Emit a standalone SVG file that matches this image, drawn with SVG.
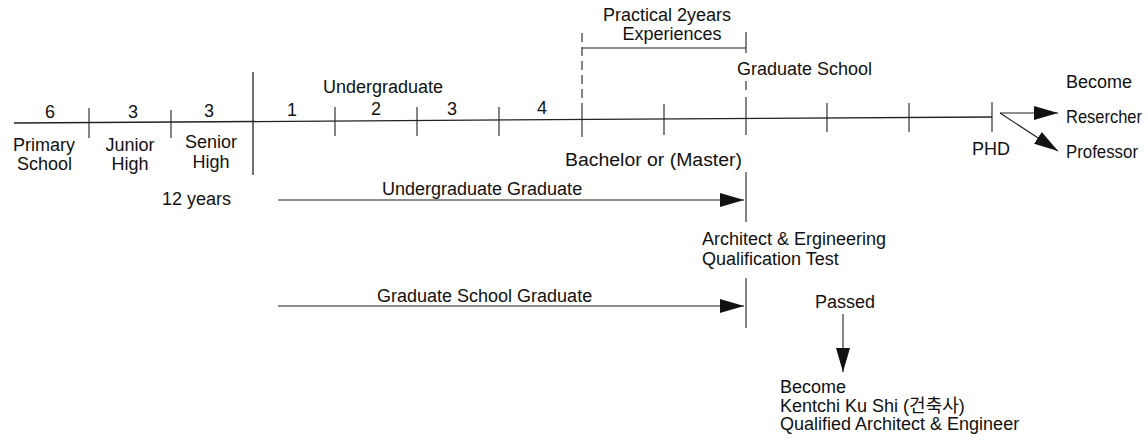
<svg xmlns="http://www.w3.org/2000/svg" width="1148" height="442" viewBox="0 0 1148 442">
<style>
text{font-family:"Liberation Sans","Noto Sans CJK KR",Arial,sans-serif;font-size:18px;fill:#111}
.ln{stroke:#222;stroke-width:1.3;fill:none}
.tk{stroke:#222;stroke-width:1.1;fill:none}
.ds{stroke:#222;stroke-width:1.1;fill:none;stroke-dasharray:9 5}
.ar{stroke:#222;stroke-width:1.1;fill:none;marker-end:url(#ah)}
.c{text-anchor:middle}
</style>
<defs>
<marker id="ah" markerUnits="userSpaceOnUse" markerWidth="26" markerHeight="16" refX="24" refY="7" orient="auto">
<path d="M0,0 L24,7 L0,14 Z" fill="#111"/>
</marker>
</defs>
<rect width="1148" height="442" fill="#fff"/>
<g id="connectors">
<path class="ln" d="M14,123 L992,117"/>
<path class="tk" d="M89,108 V138 M171,110 V138 M335,107 V136 M417,107 V136 M499,107 V136 M664,104 V135 M827,103 V132 M909,103 V132 M992,102 V132"/>
<path class="ln" d="M253,72 V175"/>
<path class="ds" d="M582,33 V103"/>
<path class="tk" d="M582,103 V137"/>
<path class="tk" d="M582,48 H746 M746,32 V53"/>
<path class="ds" d="M746,81 V95"/>
<path class="tk" d="M746,97 V135"/>
<path class="tk" d="M746,172 V222 M746,278 V328"/>
<path class="ar" d="M278,200 H744"/>
<path class="ar" d="M278,306 H744"/>
<path class="ar" d="M843,314 V372"/>
<path class="ar" d="M1000,113 H1058"/>
<path class="ar" d="M1000,113 L1058,151"/>
</g>
<g id="top-labels">
<text class="c" x="667" y="21">Practical 2years</text>
<text class="c" x="672" y="40">Experiences</text>
<text x="737" y="75">Graduate School</text>
<text x="323" y="93">Undergraduate</text>
</g>
<g id="years">
<text class="c" x="50" y="118">6</text>
<text class="c" x="133" y="118">3</text>
<text class="c" x="209" y="117">3</text>
<text class="c" x="292" y="116">1</text>
<text class="c" x="376" y="115">2</text>
<text class="c" x="452" y="115">3</text>
<text class="c" x="542" y="114">4</text>
</g>
<g id="schools">
<text x="13" y="151">Primary</text>
<text x="17" y="170">School</text>
<text class="c" x="130" y="151">Junior</text>
<text class="c" x="130" y="170">High</text>
<text class="c" x="211" y="148">Senior</text>
<text class="c" x="211" y="168">High</text>
<text x="162" y="205">12 years</text>
</g>
<g id="degree">
<text x="565" y="166" textLength="177" lengthAdjust="spacingAndGlyphs">Bachelor or (Master)</text>
</g>
<g id="paths">
<text x="382" y="195">Undergraduate Graduate</text>
<text x="377" y="302">Graduate School Graduate</text>
</g>
<g id="test">
<text x="702" y="245">Architect &amp; Ergineering</text>
<text x="702" y="265">Qualification Test</text>
<text x="815" y="308">Passed</text>
</g>
<g id="result">
<text x="780" y="393">Become</text>
<text x="780" y="412">Kentchi Ku Shi (건축사)</text>
<text x="780" y="430">Qualified Architect &amp; Engineer</text>
</g>
<g id="phd">
<text x="972" y="155">PHD</text>
<text x="1066" y="88">Become</text>
<text x="1066" y="123" textLength="76" lengthAdjust="spacingAndGlyphs">Resercher</text>
<text x="1066" y="158" textLength="72" lengthAdjust="spacingAndGlyphs">Professor</text>
</g>
</svg>
